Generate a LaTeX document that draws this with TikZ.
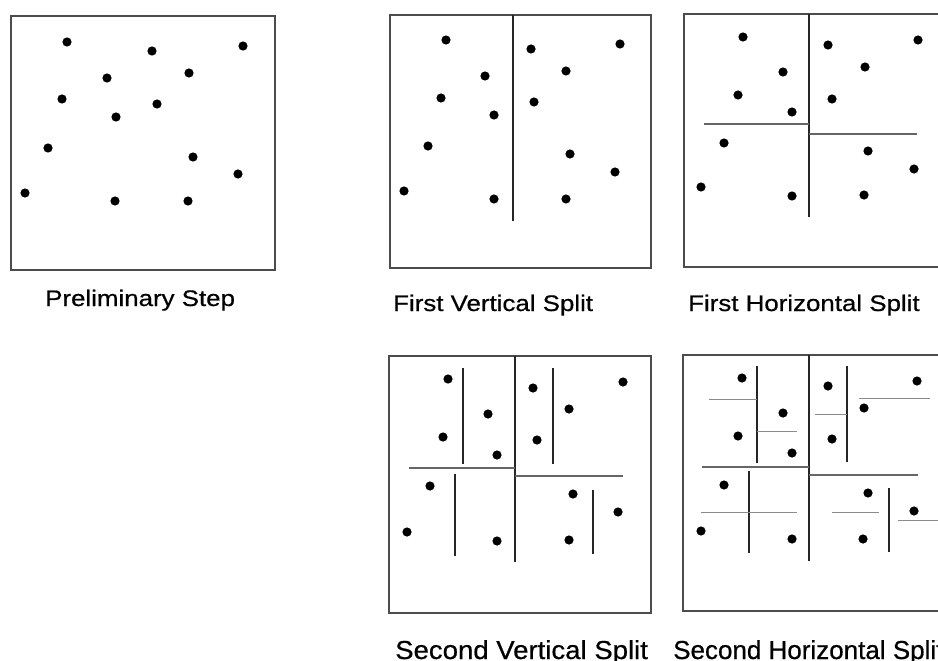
\documentclass[tikz,border=0pt]{standalone}
\usepackage{fontspec}
\setmainfont{Liberation Sans}
\newfontfamily\topcap[FakeStretch=1.15,FakeBold=0.6]{Liberation Sans}
\newfontfamily\botcapA[FakeStretch=1.06,FakeBold=0.6]{Liberation Sans}
\newfontfamily\botcapB[FakeBold=0.6]{Liberation Sans}
\begin{document}
\begin{tikzpicture}[x=1pt,y=-1pt,
  panelbox/.style={draw=black!70, line width=1.3pt},
  vsplit/.style={draw=black!85, line width=1.4pt},
  hsplit/.style={draw=black!60, line width=1.1pt},
  tsplit/.style={draw=black!45, line width=1pt},
  pt/.style={fill=black},
  toplabel/.style={anchor=base west, inner sep=0pt, font=\topcap\fontsize{22.5}{24}\selectfont},
  botlabel/.style={anchor=base west, inner sep=0pt, font=\fontsize{26}{28}\selectfont}]
\useasboundingbox (0,0) rectangle (938,661);
\clip (0,0) rectangle (938,661);

% ---------- Panel 1: Preliminary Step ----------
\draw[panelbox] (11,16) rectangle (275,270);
\foreach \x/\y in {67/42,152/51,243/46,107/78,189/73,62/99,157/104,116/117,48/148,193/157,238/174,25/193,115/201,188/201}
  \fill[pt] (\x,\y) circle[radius=4.6pt];
\node[toplabel] (l1) at (45,306) {Preliminary Step};

% ---------- Panel 2: First Vertical Split ----------
\draw[panelbox] (390,15) rectangle (651,268);
\draw[vsplit] (513,15) -- (513,221);
\foreach \x/\y in {446/40,485/76,441/98,494/115,428/146,404/191,494/199,531/49,620/44,566/71,534/102,570/154,615/172,566/199}
  \fill[pt] (\x,\y) circle[radius=4.6pt];
\node[toplabel] (l2) at (393,311) {First Vertical Split};

% ---------- Panel 3: First Horizontal Split ----------
\draw[panelbox] (684,14) rectangle (948,267);
\draw[vsplit] (809,14) -- (809,217);
\draw[hsplit] (704,124) -- (809,124);
\draw[hsplit] (809,134) -- (917,134);
\foreach \x/\y in {743/37,783/72,738/95,792/112,724/143,701/187,792/196,828/45,918/40,865/67,832/99,868/151,914/169,864/195}
  \fill[pt] (\x,\y) circle[radius=4.6pt];
\node[toplabel] (l3) at (688,311) {First Horizontal Split};

% ---------- Panel 4: Second Vertical Split ----------
\draw[panelbox] (389,356) rectangle (651,613);
\draw[vsplit] (515,356) -- (515,562);
\draw[hsplit] (409,468) -- (515,468);
\draw[hsplit] (515,476) -- (623,476);
\draw[vsplit] (463,368) -- (463,464);
\draw[vsplit] (455,474) -- (455,556);
\draw[vsplit] (553,368) -- (553,464);
\draw[vsplit] (593,490) -- (593,554);
\foreach \x/\y in {448/379,488/414,443/437,497/455,430/486,407/532,497/541,533/388,623/382,569/409,537/440,573/494,618/512,569/540}
  \fill[pt] (\x,\y) circle[radius=4.6pt];
\node[botlabel, font=\botcapA\fontsize{26}{28}\selectfont] (l4) at (395,659) {Second Vertical Split};

% ---------- Panel 5: Second Horizontal Split ----------
\draw[panelbox] (683,355) rectangle (948,611);
\draw[vsplit] (809,355) -- (809,561);
\draw[hsplit] (702,467) -- (809,467);
\draw[hsplit] (809,475) -- (918,475);
\draw[vsplit] (757,366) -- (757,463);
\draw[vsplit] (749,471) -- (749,553);
\draw[vsplit] (847,366) -- (847,462);
\draw[vsplit] (889,488) -- (889,552);
\draw[tsplit] (709,399) -- (757,399);
\draw[tsplit] (757,431) -- (797,431);
\draw[tsplit] (815,414) -- (847,414);
\draw[tsplit] (859,398) -- (930,398);
\draw[tsplit] (701,512) -- (797,512);
\draw[tsplit] (832,512) -- (879,512);
\draw[tsplit] (898,520) -- (945,520);
\foreach \x/\y in {742/378,783/413,738/436,792/453,724/485,701/531,792/539,828/386,917/381,864/408,832/439,868/493,914/511,863/539}
  \fill[pt] (\x,\y) circle[radius=4.6pt];
\node[botlabel, font=\botcapB\fontsize{26}{28}\selectfont] (l5) at (673,659) {Second Horizontal Split};
\end{tikzpicture}
\end{document}
